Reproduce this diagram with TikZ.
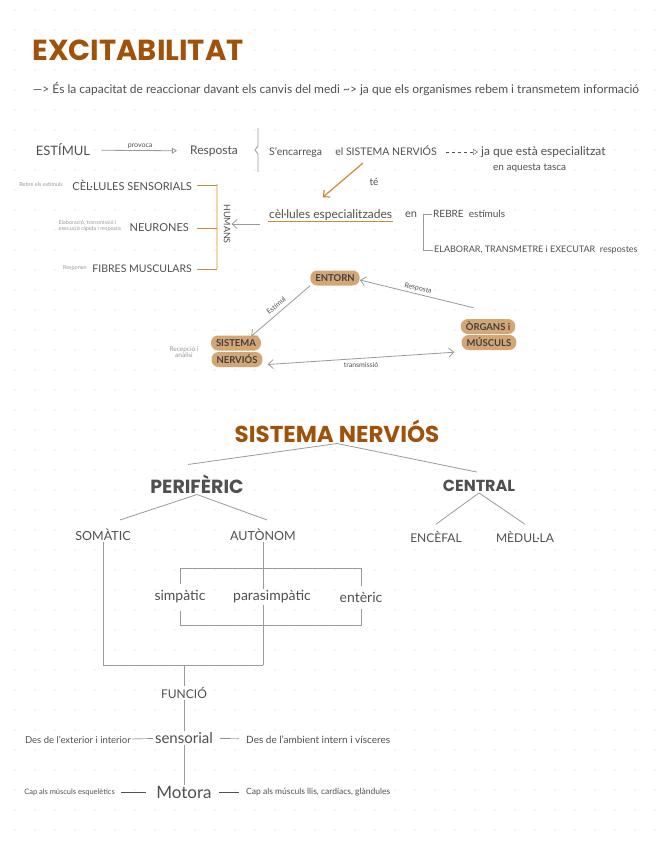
\documentclass[tikz,border=0pt]{standalone}
\usepackage{fontspec}
\setmainfont{Lato}
\newfontfamily\titlefont{Poppins}
\usetikzlibrary{arrows.meta}
\definecolor{titlebrown}{HTML}{A0520A}
\definecolor{tanpill}{HTML}{D4A676}
\definecolor{inkgray}{HTML}{505050}
\definecolor{linegray}{HTML}{9A9A9A}
\definecolor{softgray}{HTML}{9A9A9A}
\definecolor{ochre}{HTML}{C98A3C}
\definecolor{paleochre}{HTML}{F0D8B0}
\definecolor{dotgray}{HTML}{D2D2D2}

\begin{document}
\begin{tikzpicture}[x=1pt,y=-1pt,
	every node/.style={inner sep=1pt, text=inkgray},
	hand/.style={font=\fontsize{#1}{#1}\selectfont},
	small/.style={font=\fontsize{#1}{#1}\selectfont, text=softgray},
	title/.style={font=\titlefont\bfseries\fontsize{#1}{#1}\selectfont, text=titlebrown},
	branch/.style={font=\titlefont\bfseries\fontsize{#1}{#1}\selectfont, text=inkgray},
	pill/.style={fill=tanpill, rounded corners=7pt, minimum height=15pt, inner xsep=5pt, font=\bfseries\fontsize{9.5}{9.5}\selectfont, text=black!75},
	grayline/.style={draw=linegray, line width=0.8pt},
	barb/.style={-{Straight Barb[length=5pt,width=9pt]}},
	barbstart/.style={{Straight Barb[length=5pt,width=9pt]}-}]
	\useasboundingbox (0,0) rectangle (656,848);
	\fill[white] (0,0) rectangle (656,848);
	\foreach \gx in {15,35,...,655}
		\foreach \gy in {10,30,...,845}
			\fill[dotgray] (\gx,\gy) circle (0.7);

	% excitabilitat
	\node[title=29] (excit) at (138,50) {EXCITABILITAT};
	\node[hand=12] (defi) at (336,89) {\textemdash> És la capacitat de reaccionar davant els canvis del medi \textasciitilde> ja que els organismes rebem i transmetem informació};

	\node[hand=13] (estimul) at (63,150) {ESTÍMUL};
	\node[hand=12] (resposta) at (214,151) {Resposta};
	\draw[grayline, -{Triangle[open,length=5pt,width=6pt]}, shorten <=10pt, shorten >=12pt] (estimul) -- node[above, small=7, text=inkgray] {provoca} (resposta);
	\draw[grayline] (258,128) -- (258,146) -- (255,150) -- (258,154) -- (258,172);

	\node[hand=10.5, anchor=west] (senc) at (268,152) {S'encarrega \quad el SISTEMA NERVIÓS};
	\node[hand=12, anchor=west] (jaque) at (480,152) {ja que està especialitzat};
	\node[hand=10, anchor=west] (tasca) at (492,168) {en aquesta tasca};
	\draw[inkgray, dashed, -{Triangle[open,length=5pt,width=6pt]}, shorten <=8pt, shorten >=2pt] (senc) -- (jaque);

	\node[hand=12, anchor=west] (celesp) at (268,215) {cèl·lules especialitzades};
	\draw[ochre, line width=1pt] (celesp.south west) -- (celesp.south east);
	\node[hand=10] (te) at (374,182) {té};
	\draw[ochre, line width=1.2pt, barb] ([xshift=10pt,yshift=-4pt]senc.south) -- ([xshift=-8pt,yshift=11pt]celesp.north);
	\node[hand=11] (en) at (411,215) {en};
	\node[hand=10, anchor=west] (rebre) at (432,214) {REBRE \ estímuls};
	\node[hand=9, anchor=west] (elab) at (433,250) {ELABORAR, TRANSMETRE i EXECUTAR \ respostes};
	\draw[grayline] (rebre.west) -- ++(-9,0) |- (elab.west);

	% humans
	\node[hand=11, anchor=east] (sens) at (193,185) {CÈL·LULES SENSORIALS};
	\node[hand=11, anchor=east] (neur) at (190,228) {NEURONES};
	\node[hand=10.5, anchor=east] (fibr) at (193,269) {FIBRES MUSCULARS};
	\node[small=5.5, anchor=east] (rebrel) at (64,184) {Rebre els estímuls};
	\node[small=5.5, anchor=east, align=left] (elabl) at (122,226) {Elaboració, transmissió i\\execució ràpida i resposta};
	\node[small=5.5, anchor=east] (respl) at (88,268) {Responen};
	\node[hand=9, rotate=-90] (humans) at (227,224) {HUMANS};
	\coordinate (hbar) at (217,184);
	\draw[paleochre, line width=1.2pt] (hbar) -- (hbar |- fibr.east);
	\foreach \n in {sens,neur,fibr}
		\draw[ochre, line width=1pt] ([xshift=4pt]sens.east |- \n.east) -- (hbar |- \n.east);
	\draw[grayline, barb, shorten <=8pt] (celesp.west |- humans) -- (humans.north);

	% entorn
	\node[pill] (entorn) at (335,278) {ENTORN};
	\node[pill] (sist) at (236,343) {SISTEMA};
	\node[pill] (nerv) at (237,359.5) {NERVIÓS};
	\node[pill] (organs) at (488,326.5) {ÒRGANS i};
	\node[pill] (muscul) at (489,342.5) {MÚSCULS};
	\node[small=6.5, align=center] (recep) at (184,352) {Recepció i\\anàlisi};
	\draw[grayline, barbstart] ([xshift=-10pt,yshift=-1pt]sist.north east) -- node[sloped, above=3pt, hand=7] {Estímul} (entorn.south west);
	\draw[grayline, barbstart] ([yshift=-2pt]entorn.east) -- node[sloped, above=1pt, hand=7] {Resposta} ([xshift=13pt,yshift=11pt]organs.north west);
	\draw[grayline, {Straight Barb[length=5pt,width=9pt]}-{Straight Barb[length=5pt,width=9pt]}] ([xshift=5pt,yshift=-5pt]nerv.east) -- node[below=3pt, hand=7] {transmissió} ([xshift=-7pt,yshift=-2pt]muscul.south west);

	% sistema nervios
	\node[title=23] (sn) at (337,431) {SISTEMA NERVIÓS};
	\node[branch=19] (perif) at (197,484) {PERIFÈRIC};
	\node[branch=16] (central) at (479,486) {CENTRAL};
	\draw[grayline] (sn.south) -- ([xshift=-9pt,yshift=9pt]perif.north);
	\draw[grayline] (sn.south) -- ([xshift=-2pt,yshift=7pt]central.north);

	\node[hand=12.5] (somatic) at (103,535) {SOMÀTIC};
	\node[hand=12.5] (autonom) at (263,535) {AUTÒNOM};
	\node[hand=12] (encefal) at (436,537) {ENCÈFAL};
	\node[hand=12] (medulla) at (525,537) {MÈDUL·LA};
	\draw[grayline] (perif.south) -- ([xshift=17pt,yshift=8pt]somatic.north);
	\draw[grayline] (perif.south) -- ([xshift=4pt,yshift=8pt]autonom.north);
	\draw[grayline] (central.south) -- ([yshift=6pt]encefal.north);
	\draw[grayline] (central.south) -- ([yshift=6pt]medulla.north);

	\node[hand=14] (simp) at (180,597) {simpàtic};
	\node[hand=14] (paras) at (272,597) {parasimpàtic};
	\node[hand=14] (enter) at (361,597) {entèric};
	\coordinate (join) at (263,665);
	\draw[grayline] (somatic.south) |- (join);
	\draw[grayline] (autonom.south) -- (autonom.south |- paras.north);
	\draw[grayline] (autonom.south |- paras.south) -- (join);
	\draw[grayline] ([yshift=5pt]simp.north) -- ++(0,-16) -| ([yshift=5pt]enter.north);
	\draw[grayline] ([yshift=-6pt]simp.south) -- ++(0,15) -| ([yshift=-6pt]enter.south);

	% funcio
	\node[hand=12] (funcio) at (184,693) {FUNCIÓ};
	\node[hand=15] (sensor) at (184,738) {sensorial};
	\node[hand=17] (motora) at (184,792) {Motora};
	\draw[grayline] (join -| funcio) -- (funcio.north);
	\draw[grayline] (funcio.south) -- (sensor.north);
	\draw[grayline] (sensor.south) -- (motora.north);
	\node[hand=9.5, anchor=east] (exter) at (132,740) {Des de l'exterior i interior};
	\node[hand=10, anchor=west] (ambient) at (245,740) {Des de l'ambient intern i vísceres};
	\node[hand=7.5, anchor=east] (esquel) at (116,792) {Cap als músculs esquelètics};
	\node[hand=8.5, anchor=west] (llis) at (245,792) {Cap als músculs llis, cardíacs, glàndules};
	\draw[inkgray, shorten >=1pt] (exter) -- (sensor);
	\draw[inkgray, shorten <=6pt, shorten >=6pt] (sensor) -- (ambient);
	\draw[inkgray, shorten <=5pt, shorten >=9pt] (esquel) -- (motora);
	\draw[inkgray, shorten <=6pt, shorten >=6pt] (motora) -- (llis);
\end{tikzpicture}
\end{document}
